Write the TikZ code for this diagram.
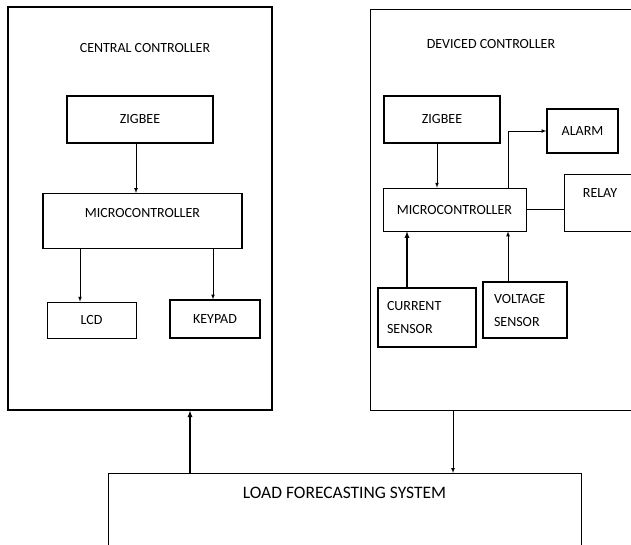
\documentclass[tikz,border=0pt]{standalone}
\usepackage{fontspec}
\setmainfont{Carlito}
\begin{document}
\begin{tikzpicture}[x=1pt,y=-1pt,>=latex,
        box/.style={draw,inner sep=0pt,font=\fontsize{14}{23}\selectfont},
        lite/.style={line width=0.7pt},
        heavy/.style={line width=1.2pt}]
    \useasboundingbox (0,0) rectangle (631,544);
    \clip (0,0) rectangle (631,544);

    % the two controller frames
    \node[box,heavy,minimum width=264,minimum height=403] (ctrlL) at (140,208.5) {};
    \node[box,lite,minimum width=300,minimum height=401] (ctrlR) at (520,209.5) {};
    \node[font=\fontsize{14}{17}\selectfont] (titleL) at (145,48) {CENTRAL CONTROLLER};
    \node[font=\fontsize{14}{17}\selectfont] (titleR) at (491,44) {DEVICED CONTROLLER};

    % central controller blocks
    \node[box,heavy,minimum width=146,minimum height=47] (zbL) at (140,119.5) {ZIGBEE};
    \node[box,heavy,anchor=north,minimum width=199,text height=23.5,text depth=31.5] (mcL) at (142.5,193) {MICROCONTROLLER};
    \node[box,lite,minimum width=89,minimum height=36] (lcd) at (91.5,320) {LCD};
    \node[box,heavy,minimum width=90,minimum height=38] (kpd) at (215,319) {KEYPAD};

    % device controller blocks
    \node[box,heavy,minimum width=116,minimum height=47] (zbR) at (442,119.5) {ZIGBEE};
    \node[box,lite,minimum width=143,minimum height=43] (mcR) at (454.5,209.5) {MICROCONTROLLER};
    \node[box,heavy,minimum width=71,minimum height=44] (alarm) at (582.5,131) {ALARM};
    \node[box,lite,anchor=north,minimum width=72,text height=23.5,text depth=33.5] (relay) at (600,174) {RELAY};
    \node[box,heavy,minimum width=98,minimum height=59,text width=80,align=left] (cur) at (427,317.5) {CURRENT\\SENSOR};
    \node[box,heavy,minimum width=84,minimum height=56,text width=62,align=left] (vol) at (525,310) {VOLTAGE\\SENSOR};

    % forecasting block at the bottom
    \node[box,lite,anchor=north,minimum width=473,text height=25.6,text depth=100,
        font=\fontsize{17.5}{21}\selectfont] (load) at (344.5,473) {LOAD FORECASTING SYSTEM};

    % links inside the central controller
    \draw[lite,->] ([xshift=-4]zbL.south) -- ([xshift=-4]zbL.south |- mcL.north);
    \draw[lite,->] ([xshift=-11.5]lcd.north |- mcL.south) -- ([xshift=-11.5]lcd.north);
    \draw[lite,->] ([xshift=-2]kpd.north |- mcL.south) -- ([xshift=-2]kpd.north);

    % links inside the device controller
    \draw[lite,->] ([xshift=-5]zbR.south) -- ([xshift=-5]zbR.south |- mcR.north);
    \draw[lite,->] ([xshift=53.5]mcR.north) |- (alarm.west);
    \draw[heavy] (mcR.east) -- (mcR.east -| relay.west);
    \draw[heavy,->] ([xshift=-20]cur.north) -- ([xshift=-20]cur.north |- mcR.south);
    \draw[lite,->] ([xshift=-17]vol.north) -- ([xshift=-17]vol.north |- mcR.south);

    % links to and from the forecasting system
    \draw[heavy,->] ([xshift=-154.5]load.north) -- ([xshift=-154.5]load.north |- ctrlL.south);
    \draw[lite,->] ([xshift=-67]ctrlR.south) -- ([xshift=-67]ctrlR.south |- load.north);
\end{tikzpicture}
\end{document}
